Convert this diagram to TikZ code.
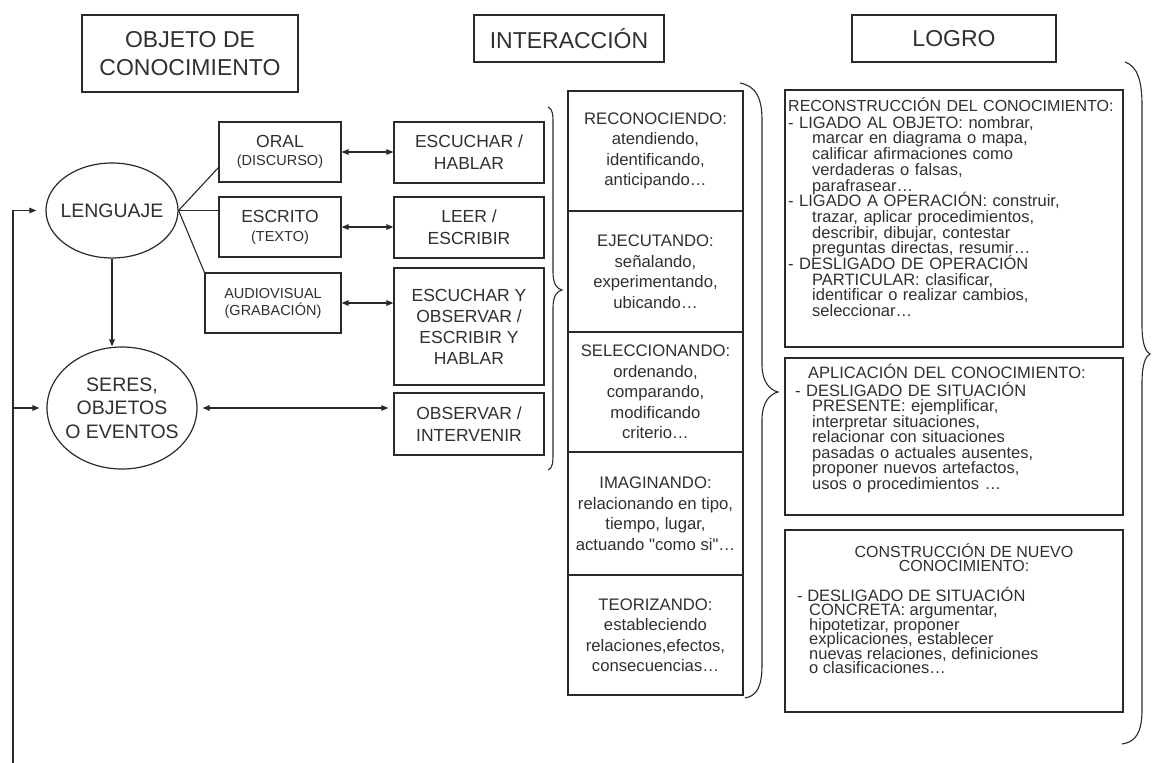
\documentclass[tikz,border=0pt]{standalone}
\usepackage{fontspec}
\setmainfont{Liberation Sans}
\usetikzlibrary{arrows.meta,shapes.geometric,calc}
\definecolor{ink}{HTML}{2A2A2A}
\definecolor{txt}{HTML}{303030}
\newcommand\hdfont{\fontsize{23}{28}\selectfont}
\newcommand\bxfont{\fontsize{17.5}{22}\selectfont}
\newcommand\bxfontb{\fontsize{17.5}{21}\selectfont}
\newcommand\smfont{\fontsize{14.5}{17}\selectfont}
\newcommand\elfont{\fontsize{19.5}{23.5}\selectfont}
\newcommand\mdfont{\fontsize{16.7}{20.5}\selectfont}
\newcommand\lgfonta{\fontsize{16.5}{15.7}\selectfont\lineskiplimit=-40pt\relax}
\newcommand\lgfontb{\fontsize{16.5}{15.5}\selectfont\lineskiplimit=-40pt\relax}
\newcommand\lgfontc{\fontsize{16}{14.5}\selectfont\lineskiplimit=-40pt\relax}
\newcommand\lgfontd{\fontsize{16.5}{14.5}\selectfont}
\newcommand\sq{\XeTeXglyph\the\XeTeXcharglyph"22\relax}
\begin{document}
\begin{tikzpicture}[x=1pt,y=-1pt,
  >={Triangle[length=7pt,width=5.5pt]},
  ln/.style={draw=ink,line width=1.1pt},
  bx/.style={draw=ink,line width=1.2pt,rectangle,inner sep=0pt,align=center,text=txt},
  el/.style={draw=ink,line width=1.2pt,ellipse,inner sep=0pt,align=center,text=txt,font=\elfont},
  arr/.style={ln,->},
  darr/.style={ln,<->},
  brc/.style={draw=ink,line width=1.1pt},
  ltext/.style={anchor=north west,inner sep=0pt,text width=340pt,align=left,text=txt},
  lline/.style={anchor=base west,inner sep=0pt,text=txt,font=\lgfontd}]
\fill[white] (0,0) rectangle (1152,763);
\useasboundingbox (0,0) rectangle (1152,763);

% headers
\node[bx,font=\hdfont,minimum width=216pt,minimum height=77pt] (hobj) at (190,53.5) {OBJETO DE\\CONOCIMIENTO};
\node[bx,font=\hdfont,minimum width=190pt,minimum height=47pt] (hint) at (569,38.5) {INTERACCIÓN};
\node[bx,font=\hdfont,minimum width=204pt,minimum height=47pt] (hlog) at (954,38.5) {LOGRO};

% ellipses
\node[el,minimum width=132pt,minimum height=95pt] (leng) at (112,210.5) {\makebox[0pt]{LENGUAJE}};
\node[el,minimum width=150pt,minimum height=122pt] (ser) at (122,408) {\makebox[0pt]{SERES,}\\\makebox[0pt]{OBJETOS}\\\makebox[0pt]{O EVENTOS}};

% left boxes
\node[bx,font=\bxfont,minimum width=122pt,minimum height=60pt] (oral) at (280,152) {ORAL\\[-4pt]{\smfont (DISCURSO)}};
\node[bx,font=\bxfont,minimum width=122pt,minimum height=60pt] (escrito) at (280,227) {ESCRITO\\[-3pt]{\smfont (TEXTO)}};
\node[bx,font=\smfont,minimum width=136pt,minimum height=60pt] (audio) at (273,303) {AUDIOVISUAL\\(GRABACIÓN)};
\node[bx,font=\bxfont,minimum width=150pt,minimum height=61pt] (esc1) at (469,152.5) {ESCUCHAR /\\HABLAR};
\node[bx,font=\bxfont,minimum width=150pt,minimum height=61pt] (leer) at (469,227.5) {LEER /\\ESCRIBIR};
\node[bx,font=\bxfontb,minimum width=150pt,minimum height=117pt] (esc2) at (469,326.5) {ESCUCHAR Y\\OBSERVAR /\\ESCRIBIR Y\\HABLAR};
\node[bx,font=\bxfont,minimum width=150pt,minimum height=62pt] (obs) at (469,424) {OBSERVAR /\\INTERVENIR};

% connectors left
\coordinate (fb) at (13,763);
\draw[arr,shorten >=9pt] (fb) |- (leng.west);
\draw[arr,shorten >=7pt] (fb |- ser.west) -- (ser.west);
\draw[arr] (leng.south) -- (leng.south |- ser.north);
\draw[ln] (leng.east) -- ($(oral.south west)+(0,-15)$);
\draw[ln] (leng.east) -- (leng.east -| escrito.west);
\draw[ln] (leng.east) -- (audio.north west);
\draw[darr] (oral.east) -- (esc1.west |- oral.east);
\draw[darr] (escrito.east) -- (leer.west |- escrito.east);
\draw[darr] (audio.east) -- (esc2.west |- audio.east);
\draw[darr,shorten <=5pt,shorten >=5pt] (ser.east) -- (obs.west |- ser.east);

% middle column
\node[bx,font=\mdfont,minimum width=175pt,minimum height=120pt] (c1) at (655.5,151) {RECONOCIENDO:\\atendiendo,\\identificando,\\anticipando…};
\node[bx,font=\mdfont,minimum width=175pt,minimum height=121pt] (c2) at (655.5,271.5) {EJECUTANDO:\\señalando,\\experimentando,\\ubicando…};
\node[bx,font=\mdfont,minimum width=175pt,minimum height=120pt] (c3) at (655.5,392) {SELECCIONANDO:\\ordenando,\\comparando,\\modificando\\criterio…};
\node[bx,font=\mdfont,minimum width=175pt,minimum height=123pt] (c4) at (655.5,513.5) {IMAGINANDO:\\relacionando en tipo,\\tiempo, lugar,\\actuando \sq como si\sq…};
\node[bx,font=\mdfont,minimum width=175pt,minimum height=120pt] (c5) at (655.5,635) {TEORIZANDO:\\estableciendo\\relaciones,efectos,\\consecuencias…};

% logro boxes
\node[bx,minimum width=338pt,minimum height=257pt] (l1) at (954,218.5) {};
\node[bx,minimum width=338pt,minimum height=157pt] (l2) at (954,436.5) {};
\node[bx,minimum width=338pt,minimum height=182pt] (l3) at (954,621) {};

\node[ltext,font=\lgfonta] (t1) at (788,95) {\rule{0pt}{16pt}{\fontsize{16}{15.7}\selectfont RECONSTRUCCIÓN DEL CONOCIMIENTO:}\par\vspace{1.3pt}
\hangindent=24pt\hangafter=1 - LIGADO AL OBJETO: nombrar,\newline marcar en diagrama o mapa,\newline calificar afirmaciones como\newline verdaderas o falsas,\newline parafrasear…\par
\hangindent=24pt\hangafter=1 - LIGADO A OPERACIÓN: construir,\newline trazar, aplicar procedimientos,\newline describir, dibujar, contestar\newline preguntas directas, resumir…\par
\hangindent=24pt\hangafter=1 - DESLIGADO DE OPERACIÓN\newline PARTICULAR: clasificar,\newline identificar o realizar cambios,\newline seleccionar…\par};

\node[ltext,font=\lgfontb] (t2) at (795,362) {\rule{0pt}{16pt}\hspace*{13pt}APLICACIÓN DEL CONOCIMIENTO:\par\vspace{2.5pt}
\hangindent=17pt\hangafter=1 - DESLIGADO DE SITUACIÓN\newline PRESENTE: ejemplificar,\newline interpretar situaciones,\newline relacionar con situaciones\newline pasadas o actuales ausentes,\newline proponer nuevos artefactos,\newline usos o procedimientos …\par};

\node[anchor=north,inner sep=0pt,align=center,text=txt,font=\lgfontc] (t3a) at (964,541) {\rule{0pt}{16pt}CONSTRUCCIÓN DE NUEVO\\CONOCIMIENTO:};
\node[lline] (t3b) at (797,601) {- DESLIGADO DE SITUACIÓN};
\node[lline] (t3c) at (809,615.5) {CONCRETA: argumentar,};
\node[lline] (t3d) at (809,630) {hipotetizar, proponer};
\node[lline] (t3e) at (809,644.5) {explicaciones, establecer};
\node[lline] (t3f) at (809,659) {nuevas relaciones, definiciones};
\node[lline] (t3g) at (809,673.5) {o clasificaciones…};

% braces
\draw[brc] (548,107) .. controls (553,109) and (553,115) .. (553,125) -- (553,272) .. controls (553,284) and (557,289) .. (562,290) .. controls (557,291) and (553,296) .. (553,308) -- (553,452) .. controls (553,462) and (553,468) .. (548,470);
\draw[brc] (740,83) .. controls (756,86) and (762,98) .. (762,120) -- (762,365) .. controls (762,382) and (770,390) .. (778,392) .. controls (770,394) and (762,402) .. (762,420) -- (762,665) .. controls (762,688) and (756,696) .. (745,698);
\draw[brc] (1125,62) .. controls (1137,66) and (1142,80) .. (1142,105) -- (1142,325) .. controls (1142,345) and (1146,352) .. (1150,354) .. controls (1146,356) and (1142,363) .. (1142,383) -- (1142,710) .. controls (1142,732) and (1136,742) .. (1122,744);
\end{tikzpicture}
\end{document}
